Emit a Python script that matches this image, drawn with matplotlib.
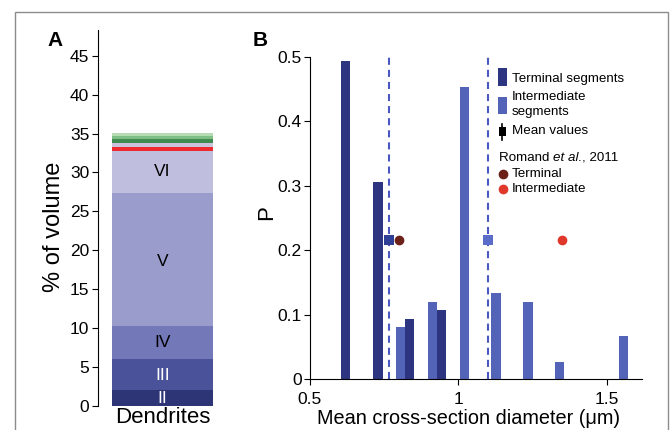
import matplotlib
matplotlib.use('Agg')
import matplotlib.pyplot as plt
from matplotlib.patches import Rectangle
from matplotlib.lines import Line2D

plt.rcParams['font.family'] = ['Liberation Sans', 'DejaVu Sans']

# panel A: stacked volume per layer (% of volume)
layer_names = ['II', 'III', 'IV', 'V', 'VI', 'red', 'gap', 'g1', 'g2', 'g3']
layer_tops = [2.05, 6.1, 10.3, 27.4, 32.7, 33.3, 33.8, 34.3, 34.7, 35.1]
layer_colors = ['#2e3577', '#4a5399', '#7378b8', '#9a9dcc', '#bfbedf',
                '#ee2a2e', '#c9c3dd', '#3f8a4f', '#7fbf86', '#b5dcb3']
layer_label_y = [1.0, 3.9, 8.2, 18.5, 30.1]
layer_label_col = ['white', 'white', 'black', 'black', 'black']

# panel B: histograms of mean cross-section diameter
term_x = [0.621, 0.729, 0.836, 0.943]
term_p = [0.493, 0.306, 0.093, 0.107]
inter_x = [0.805, 0.912, 1.020, 1.127, 1.235, 1.342, 1.557]
inter_p = [0.080, 0.120, 0.453, 0.133, 0.120, 0.027, 0.066]
mean_term = 0.767
mean_inter = 1.100
romand_term = 0.801
romand_inter = 1.350
marker_y = 0.215

c_term = '#2d3580'
c_inter = '#5363b8'
c_dash = '#4a58c2'

W, H = 670, 430
fig = plt.figure(figsize=(6.7, 4.3), dpi=100)

def fx(px):
    return px / W

def fy(py):
    return 1 - py / H

# outer frame
fig.add_artist(Rectangle((fx(15), -0.2), fx(668) - fx(15), fy(12) + 0.2,
                         transform=fig.transFigure, fill=False,
                         ec='#8c8c8c', lw=1.0))

# ---- panel A
axA = fig.add_axes([fx(97.7), fy(406), fx(227) - fx(97.7), fy(30) - fy(406)])
bottom = 0
for top, col in zip(layer_tops, layer_colors):
    axA.bar(0, top - bottom, bottom=bottom, width=1.0, color=col, lw=0)
    bottom = top
for name, yy, tc in zip(layer_names[:5], layer_label_y, layer_label_col):
    axA.text(0, yy, name, ha='center', va='center', fontsize=12.5, color=tc)
axA.set_xlim(-0.64, 0.64)
axA.set_ylim(0, 48.3)
axA.set_yticks(range(0, 50, 5))
axA.set_xticks([0])
axA.set_xticklabels(['Dendrites'], fontsize=16)
axA.tick_params(axis='x', length=0, pad=1)
axA.tick_params(axis='y', labelsize=12.5, length=4, width=0.8, pad=2)
for s in ['top', 'right', 'bottom']:
    axA.spines[s].set_visible(False)
axA.spines['left'].set_linewidth(0.8)
fig.text(fx(53.5), fy(227), '% of volume', fontsize=17, rotation=90,
         ha='center', va='center')
fig.text(fx(47), fy(40), 'A', fontsize=15, fontweight='bold', ha='left', va='center')

# ---- panel B
axB = fig.add_axes([fx(310), fy(379), fx(641.7) - fx(310), fy(56.7) - fy(379)])
bw = 0.031
axB.bar(term_x, term_p, width=bw, color=c_term, lw=0)
axB.bar(inter_x, inter_p, width=bw, color=c_inter, lw=0)
dash = (0, (3.4, 2.4))
axB.plot([mean_term, mean_term], [0, 0.5], color=c_dash, lw=1.5, ls=dash)
axB.plot([mean_inter, mean_inter], [0, 0.5], color=c_dash, lw=1.5, ls=dash)
axB.plot([mean_term], [marker_y], 's', color='#2f3f95', ms=6.5, mew=0)
axB.plot([mean_inter], [marker_y], 's', color='#5a6cc8', ms=6.5, mew=0)
axB.plot([romand_term], [marker_y], 'o', color='#6b2018', ms=7, mew=0)
axB.plot([romand_inter], [marker_y], 'o', color='#e0392c', ms=7, mew=0)
axB.set_xlim(0.5, 1.618)
axB.set_ylim(0, 0.5)
axB.set_xticks([0.5, 1, 1.5])
axB.set_xticklabels(['0.5', '1', '1.5'])
axB.set_yticks([0, 0.1, 0.2, 0.3, 0.4, 0.5])
axB.set_yticklabels(['0', '0.1', '0.2', '0.3', '0.4', '0.5'])
axB.tick_params(labelsize=12.5, length=4, width=0.8)
axB.tick_params(axis='x', pad=5)
axB.tick_params(axis='y', pad=2)
for s in ['top', 'right']:
    axB.spines[s].set_visible(False)
for s in ['left', 'bottom']:
    axB.spines[s].set_linewidth(0.8)
fig.text(fx(468.5), fy(418), 'Mean cross-section diameter (μm)', fontsize=14.3,
         ha='center', va='center')
fig.text(fx(266.7), fy(213), 'P', fontsize=16, rotation=90, ha='center', va='center')
fig.text(fx(253), fy(40), 'B', fontsize=15, fontweight='bold', ha='left', va='center')

# legend drawn by hand
fig.add_artist(Rectangle((fx(498), fy(86)), fx(8.7), fy(68) - fy(86),
                         transform=fig.transFigure, color=c_term, lw=0))
fig.add_artist(Rectangle((fx(498), fy(114.3)), fx(8.7), fy(96.7) - fy(114.3),
                         transform=fig.transFigure, color=c_inter, lw=0))
fig.add_artist(Line2D([fx(502.3), fx(502.3)], [fy(140), fy(124.3)],
                      transform=fig.transFigure, color='black', lw=1.2))
fig.add_artist(Rectangle((fx(499), fy(136)), fx(6.6), fy(126.7) - fy(136),
                         transform=fig.transFigure, color='black', lw=0))
fig.add_artist(Line2D([fx(503.3)], [fy(174)], transform=fig.transFigure,
                      marker='o', color='#6b2018', ms=7, mew=0))
fig.add_artist(Line2D([fx(503.3)], [fy(189)], transform=fig.transFigure,
                      marker='o', color='#e0392c', ms=7, mew=0))
leg_fs = 9.6
fig.text(fx(512), fy(79.3), 'Terminal segments', fontsize=leg_fs, va='center')
fig.text(fx(512), fy(97.3), 'Intermediate', fontsize=leg_fs, va='center')
fig.text(fx(512), fy(112.3), 'segments', fontsize=leg_fs, va='center')
fig.text(fx(512), fy(130.7), 'Mean values', fontsize=leg_fs, va='center')
fig.text(fx(512), fy(174), 'Terminal', fontsize=leg_fs, va='center')
fig.text(fx(512), fy(189), 'Intermediate', fontsize=leg_fs, va='center')

# "Romand et al., 2011" in three pieces so the italic part sits tight
renderer = fig.canvas.get_renderer()
xpos = fx(499)
for piece, style in [('Romand ', 'normal'), ('et al.', 'italic'), (', 2011', 'normal')]:
    t = fig.text(xpos, fy(157.7), piece, fontsize=leg_fs, va='center', style=style)
    bb = t.get_window_extent(renderer)
    xpos += bb.width / W

fig.savefig('out.png', dpi=100)
